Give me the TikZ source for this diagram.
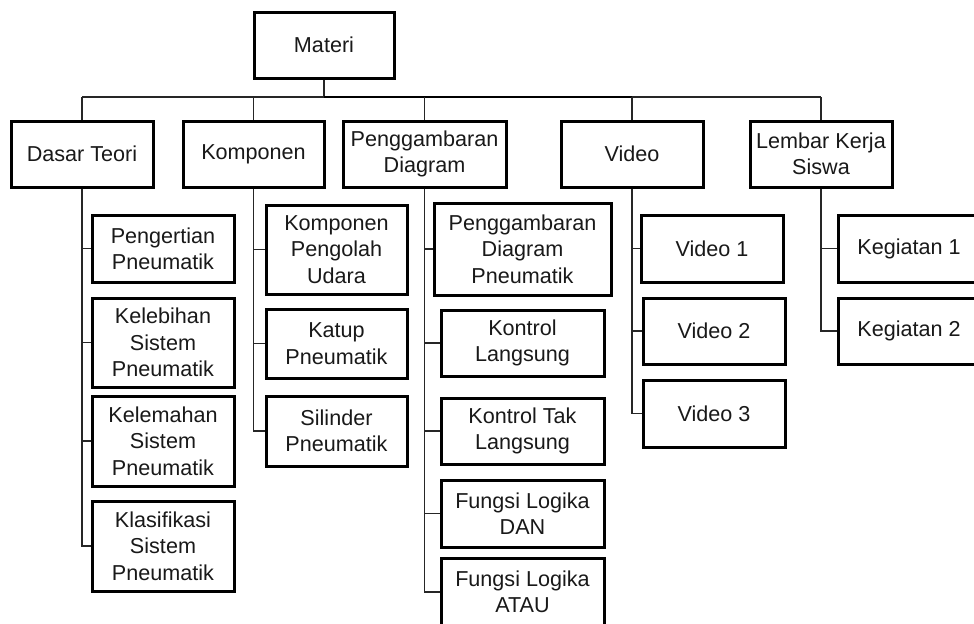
\documentclass[tikz,border=0pt]{standalone}
\usepackage{fontspec}
\setmainfont{Liberation Sans}
\begin{document}
\begin{tikzpicture}[x=0.5pt,y=-0.5pt,
  box/.style={draw=black, line width=1.5pt, fill=white, align=center,
    inner sep=0pt, text=black!90, font=\fontsize{10.8}{13.2}\selectfont},
  link/.style={draw=black!85, line width=0.75pt},
  trunk/.style={draw=black, line width=1.4pt}]
% page frame and clipping
\useasboundingbox (0,0) rectangle (974,623);
\clip (0,0) rectangle (974,623);
% box from corner (x1,y1) to corner (x2,y2)
\newcommand{\bx}[6]{%
  \pgfmathsetmacro\bxcx{(#2+#4)/2}%
  \pgfmathsetmacro\bxcy{(#3+#5)/2}%
  \pgfmathsetmacro\bxw{(#4-#2)*0.5}%
  \pgfmathsetmacro\bxh{(#5-#3)*0.5}%
  \node[box, minimum width=\bxw pt, minimum height=\bxh pt] (#1) at (\bxcx,\bxcy) {#6};}
% root
\bx{materi}{254}{12}{394}{78}{Materi}
% main topics
\bx{dasar}{11}{121}{153}{187}{Dasar Teori}
\bx{komp}{183}{121}{324}{187}{Komponen}
\bx{peng}{343}{121}{506}{187}{Penggambaran\\Diagram}
\bx{video}{561}{121}{703}{187}{Video}
\bx{lks}{750}{121}{892}{187}{Lembar Kerja\\Siswa}
% Dasar Teori
\bx{d1}{92}{215}{234}{282}{Pengertian\\Pneumatik}
\bx{d2}{92}{298}{234}{387}{Kelebihan\\Sistem\\Pneumatik}
\bx{d3}{92}{396}{234}{486}{Kelemahan\\Sistem\\Pneumatik}
\bx{d4}{92}{501}{234}{591}{Klasifikasi\\Sistem\\Pneumatik}
% Komponen
\bx{k1}{266}{205}{407}{294}{Komponen\\Pengolah\\Udara}
\bx{k2}{266}{309}{407}{378}{Katup\\Pneumatik}
\bx{k3}{266}{396}{407}{466}{Silinder\\Pneumatik}
% Penggambaran Diagram
\bx{p1}{434}{203}{611}{295}{Penggambaran\\Diagram\\Pneumatik}
\bx{p2}{441}{310}{604}{376}{Kontrol\\Langsung}
\bx{p3}{441}{398}{604}{464}{Kontrol Tak\\Langsung}
\bx{p4}{441}{480}{604}{547}{Fungsi Logika\\DAN}
\bx{p5}{441}{558}{604}{626}{Fungsi Logika\\ATAU}
% Video
\bx{v1}{641}{215}{783}{282}{Video 1}
\bx{v2}{643}{298}{785}{364}{Video 2}
\bx{v3}{643}{380}{785}{447}{Video 3}
% Lembar Kerja Siswa
\bx{g1}{838}{215}{980}{282}{Kegiatan 1}
\bx{g2}{838}{298}{980}{364}{Kegiatan 2}
% bus under the root
\coordinate (hub) at (materi.south |- 0,97);
\coordinate (busL) at (dasar.north |- hub);
\coordinate (busV) at (video.north |- hub);
\coordinate (busR) at (lks.north |- hub);
\draw[link] (materi.south) -- (hub);
\draw[link] (busL) -- (hub);
\draw[trunk] (hub) -- (busV);
\draw[link] (busV) -- (busR);
\draw[link] (busL) -- (dasar.north);
\draw[link] (komp.north |- hub) -- (komp.north);
\draw[link] (peng.north |- hub) -- (peng.north);
\draw[link] (busV) -- (video.north);
\draw[link] (busR) -- (lks.north);
% branches
\foreach \c in {d1,d2,d3,d4} \draw[link] (dasar.south) |- (\c.west);
\foreach \c in {k1,k2,k3} \draw[link] (komp.south) |- (\c.west);
\foreach \c in {p1,p2,p3,p4,p5} \draw[link] (peng.south) |- (\c.west);
\foreach \c in {v1,v2,v3} \draw[link] (video.south) |- (\c.west);
\foreach \c in {g1,g2} \draw[link] (lks.south) |- (\c.west);
\end{tikzpicture}
\end{document}
